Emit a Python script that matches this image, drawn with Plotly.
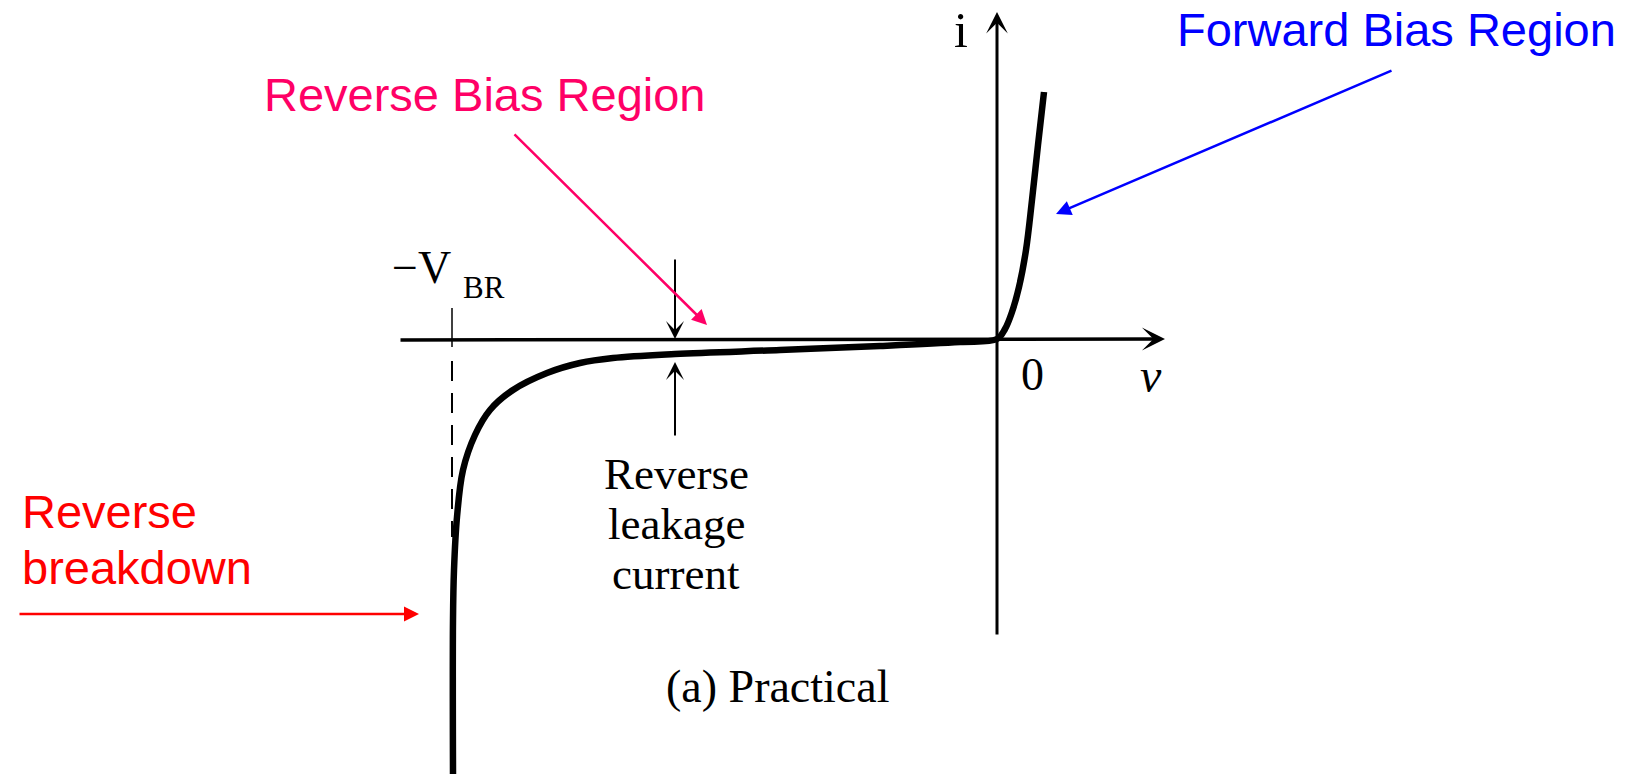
import plotly.graph_objects as go

# Diode I-V characteristic (units: arbitrary, origin at the axes crossing)
v_reverse = [-544, -544, -543, -540, -534, -522, -507, -484, -450, -417, -384,
             -322, -217, -117, -37, 0]
i_reverse = [-435, -281, -231, -178, -131, -96, -71, -51, -34, -24, -19,
             -15, -11, -7, -3, 0]
v_forward = [0, 8, 15, 22, 29, 35, 41, 47]
i_forward = [0, 10, 27, 52, 89, 139, 194, 247]

v_br = -545           # breakdown voltage position
i_br_dash_end = -198  # where the dashed guide meets the curve
v_leak = -322         # where leakage current is marked
i_leak = -15

# Figure geometry (pixel <-> data helpers); page has an 8px body margin
W, H = 1629, 774
X0, Y0 = 997, 339   # page-pixel position of the origin
OFF = 8
def px(x): return x - X0
def py(y): return Y0 - y

SANS = "Liberation Sans, Arial, sans-serif"
SERIF = "Liberation Serif, Times New Roman, serif"
PINK = "#FF0066"
BLUE = "#0000FF"
RED = "#FF0000"

fig = go.Figure()

# dashed guide at -V_BR
fig.add_trace(go.Scatter(x=[v_br, v_br], y=[-22, i_br_dash_end], mode="lines",
                         line=dict(color="black", width=2, dash="20px,12px"), hoverinfo="skip"))
fig.add_trace(go.Scatter(x=[v_br, v_br], y=[py(308), -8], mode="lines",
                         line=dict(color="black", width=1.5), hoverinfo="skip"))

# the diode curve
fig.add_trace(go.Scatter(x=v_reverse + v_forward[1:], y=i_reverse + i_forward[1:], mode="lines",
                         line=dict(color="black", width=6.5, shape="spline", smoothing=1.0),
                         hoverinfo="skip"))

ann = []

def arrow(x0, y0, x1, y1, color, width, head, size):
    ann.append(dict(x=px(x1), y=py(y1), ax=px(x0), ay=py(y0), xref="x", yref="y",
                    axref="x", ayref="y", text="", showarrow=True, arrowhead=head,
                    arrowsize=size, arrowwidth=width, arrowcolor=color, standoff=0,
                    startstandoff=0))

# axes
arrow(399, 340, 1165, 339, "black", 3.5, 3, 1.1)
arrow(997, 636, 997, 12, "black", 3, 3, 1.2)
# leakage current markers
arrow(675, 258, 675, 339, "black", 2, 3, 1.5)
ann.append(dict(x=v_leak, y=i_leak - 8, ax=v_leak, ay=py(437), xref="x", yref="y",
                axref="x", ayref="y", text="", showarrow=True, arrowhead=3, arrowsize=1.5,
                arrowwidth=2, arrowcolor="black", standoff=0))

# coloured call-out arrows
arrow(513, 133, 707, 325, PINK, 2.5, 2, 1.2)
arrow(1393, 70, 1056, 214, BLUE, 2.5, 2, 1.2)
arrow(18, 614, 419, 614, RED, 2.5, 2, 1.2)

def text(x, y, s, size, color, family, xanchor="center"):
    ann.append(dict(x=px(x), y=py(y), xref="x", yref="y", text=s, showarrow=False,
                    xanchor=xanchor, yanchor="middle",
                    font=dict(size=size, color=color, family=family)))

text(485, 94, "Reverse Bias Region", 47, PINK, SANS)
text(1396, 29, "Forward Bias Region", 47, BLUE, SANS)
text(20, 511, "Reverse", 47, RED, SANS, xanchor="left")
text(20, 567, "breakdown", 47, RED, SANS, xanchor="left")

text(390, 267, "\u2212V", 46, "black", SERIF, xanchor="left")
text(461, 287, "BR", 31, "black", SERIF, xanchor="left")
text(961, 30, "i", 50, "black", SERIF)
text(1032, 374, "0", 46, "black", SERIF)
text(1151, 375, "<i>v</i>", 48, "black", SERIF)

text(676, 474, "Reverse", 45, "black", SERIF)
text(676, 524, "leakage", 45, "black", SERIF)
text(676, 574, "current", 45, "black", SERIF)
text(777, 686, "(a) Practical", 46, "black", SERIF)

fig.update_layout(
    width=W, height=H, margin=dict(l=0, r=0, t=0, b=0),
    paper_bgcolor="white", plot_bgcolor="white", showlegend=False,
    xaxis=dict(range=[px(OFF), px(OFF + W)], visible=False, fixedrange=True),
    yaxis=dict(range=[py(OFF + H), py(OFF)], visible=False, fixedrange=True),
    annotations=ann,
)

fig.write_html("out.html")
